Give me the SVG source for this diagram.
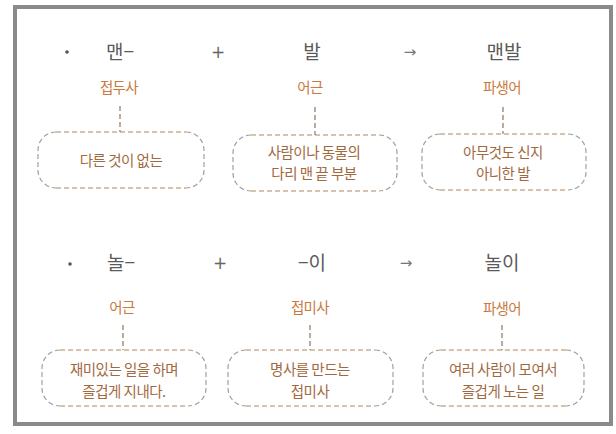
<svg xmlns="http://www.w3.org/2000/svg" width="616" height="434" viewBox="0 0 616 434">
<style>
  .word{font-family:"Noto Sans CJK KR","Noto Sans",sans-serif;font-size:19px;fill:#5a5a5a;text-anchor:middle}
  .op{font-family:"DejaVu Sans",sans-serif;font-size:17px;fill:#666;text-anchor:middle}
  .arr{font-family:"DejaVu Sans",sans-serif;font-size:15px;fill:#777;text-anchor:middle}
  .lab{font-family:"Noto Sans CJK KR","Noto Sans",sans-serif;font-size:14.5px;fill:#c97a3e;text-anchor:middle;letter-spacing:-0.6px}
  .desc{font-family:"Noto Sans CJK KR","Noto Sans",sans-serif;font-size:14.5px;fill:#a2693f;text-anchor:middle;letter-spacing:-0.5px}
  .hl{fill:none;stroke:#b0855f;stroke-width:1.2;stroke-dasharray:5 3}
  .sd{fill:none;stroke:#a0a0a0;stroke-width:1.2;stroke-dasharray:5 3}
  .con{fill:none;stroke:#8c7563;stroke-width:1.2;stroke-dasharray:5 3}
</style>
<rect x="15" y="7" width="596" height="417" fill="#fff" stroke="#8a8a8a" stroke-width="4"/>

<g id="row1">
  <g id="bullet1"><circle cx="67" cy="52" r="1.8" fill="#555"/></g>
  <g id="w-maen"><text class="word" x="120" y="59">맨−</text></g>
  <g id="plus1"><text class="op" x="218" y="58">+</text></g>
  <g id="w-bal"><text class="word" x="312" y="59">발</text></g>
  <g id="arrow1"><text class="arr" x="410" y="57">→</text></g>
  <g id="w-maenbal"><text class="word" x="504" y="59">맨발</text></g>
</g>
<g id="row2">
  <g id="bullet2"><circle cx="70" cy="264" r="1.8" fill="#555"/></g>
  <g id="w-nol"><text class="word" x="121" y="270">놀−</text></g>
  <g id="plus2"><text class="op" x="220" y="269">+</text></g>
  <g id="w-i"><text class="word" x="312" y="270">−이</text></g>
  <g id="arrow2"><text class="arr" x="406" y="268">→</text></g>
  <g id="w-nori"><text class="word" x="502" y="270">놀이</text></g>
</g>

<g id="label-jeopdusa"><text class="lab" x="119" y="93">접두사</text></g>
<g id="label-eogeun1"><text class="lab" x="310" y="93">어근</text></g>
<g id="label-pasaengeo1"><text class="lab" x="502" y="93">파생어</text></g>
<g id="label-eogeun2"><text class="lab" x="122" y="313">어근</text></g>
<g id="label-jeopmisa"><text class="lab" x="310" y="313">접미사</text></g>
<g id="label-pasaengeo2"><text class="lab" x="502" y="314">파생어</text></g>

<g id="connectors">
  <line class="con" x1="120" y1="106" x2="120" y2="132"/>
  <line class="con" x1="315" y1="107" x2="315" y2="135"/>
  <line class="con" x1="503" y1="107" x2="503" y2="134"/>
  <line class="con" x1="123" y1="325" x2="123" y2="350"/>
  <line class="con" x1="310" y1="325" x2="310" y2="350"/>
  <line class="con" x1="502" y1="325" x2="502" y2="350"/>
</g>

<g id="box1">
  <path class="hl" d="M56 132H186M56 188H186"/>
  <path class="sd" d="M56 132A18 18 0 0 0 38 150V170A18 18 0 0 0 56 188M186 132A18 18 0 0 1 204 150V170A18 18 0 0 1 186 188"/>
  <text class="desc" x="121" y="166">다른 것이 없는</text>
</g>
<g id="box2">
  <path class="hl" d="M251 135H379M251 191H379"/>
  <path class="sd" d="M251 135A18 18 0 0 0 233 153V173A18 18 0 0 0 251 191M379 135A18 18 0 0 1 397 153V173A18 18 0 0 1 379 191"/>
  <text class="desc" x="314" y="158">사람이나 동물의</text>
  <text class="desc" x="314" y="179">다리 맨 끝 부분</text>
</g>
<g id="box3">
  <path class="hl" d="M440 134H568M440 190H568"/>
  <path class="sd" d="M440 134A18 18 0 0 0 422 152V172A18 18 0 0 0 440 190M568 134A18 18 0 0 1 586 152V172A18 18 0 0 1 568 190"/>
  <text class="desc" x="503" y="158">아무것도 신지</text>
  <text class="desc" x="503" y="179">아니한 발</text>
</g>
<g id="box4">
  <path class="hl" d="M60 350H188M60 406H188"/>
  <path class="sd" d="M60 350A18 18 0 0 0 42 368V388A18 18 0 0 0 60 406M188 350A18 18 0 0 1 206 368V388A18 18 0 0 1 188 406"/>
  <text class="desc" x="124" y="375">재미있는 일을 하며</text>
  <text class="desc" x="124" y="397">즐겁게 지내다.</text>
</g>
<g id="box5">
  <path class="hl" d="M246 350H375M246 406H375"/>
  <path class="sd" d="M246 350A18 18 0 0 0 228 368V388A18 18 0 0 0 246 406M375 350A18 18 0 0 1 393 368V388A18 18 0 0 1 375 406"/>
  <text class="desc" x="310" y="375">명사를 만드는</text>
  <text class="desc" x="310" y="397">접미사</text>
</g>
<g id="box6">
  <path class="hl" d="M441 350H566M441 406H566"/>
  <path class="sd" d="M441 350A18 18 0 0 0 423 368V388A18 18 0 0 0 441 406M566 350A18 18 0 0 1 584 368V388A18 18 0 0 1 566 406"/>
  <text class="desc" x="503" y="375">여러 사람이 모여서</text>
  <text class="desc" x="503" y="397">즐겁게 노는 일</text>
</g>
</svg>
